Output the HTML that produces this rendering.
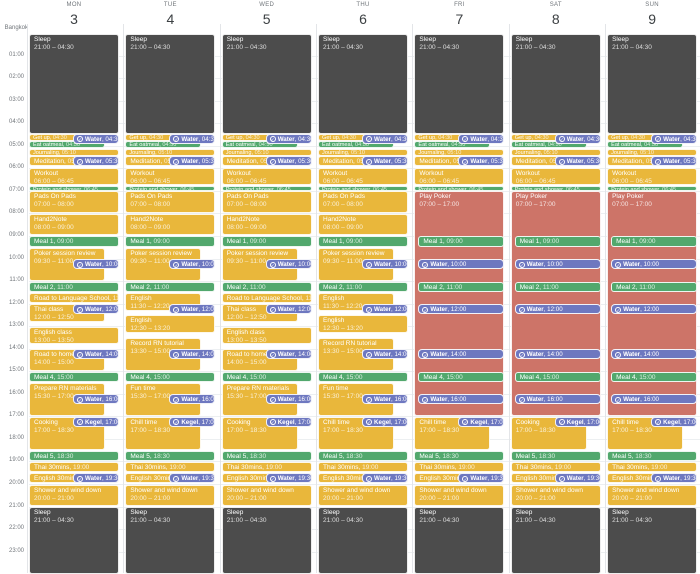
<!DOCTYPE html>
<html><head><meta charset="utf-8">
<style>
*{box-sizing:border-box;margin:0;padding:0}
body{width:700px;height:573px;overflow:hidden;background:#fff;font-family:"Liberation Sans",sans-serif;position:relative}
.hl{position:absolute;left:29px;right:0;height:1px;background:#eceff1}
.vl{position:absolute;top:24px;bottom:0;width:1px;background:#e3e5e8}
.hlab{position:absolute;left:0;width:24px;text-align:right;font-size:6px;color:#70757a}
.dn{position:absolute;top:2px;font-size:6px;color:#70757a;text-align:center;width:96px;letter-spacing:.3px}
.dd{position:absolute;top:11px;font-size:14px;color:#3c4043;text-align:center;width:96px}
.ev{position:absolute;border-radius:3px;color:#fff;font-size:6.5px;line-height:8px;padding:1px 4px;overflow:hidden;white-space:nowrap;border:0.5px solid rgba(255,255,255,.9)}
.ev .t{opacity:.8}
.y{background:#e9b73b}.g{background:#52a86d}.d{background:#4c4c4c}.r{background:#cd7468}.p{background:#6e78c0}
.sm{font-size:5.6px;line-height:6px;padding:0 3px}
.chip{font-size:6.2px;line-height:9px;padding:0 3px;border-radius:4px}
.chip b{font-weight:bold}
.ic{display:inline-block;width:6px;height:6px;border:0.8px solid #fff;border-radius:50%;font-size:4.5px;line-height:5px;text-align:center;vertical-align:-0.5px;margin-right:2px}
</style></head>
<body>
<div id="cal"></div>
<script>
const days=["MON","TUE","WED","THU","FRI","SAT","SUN"];
const dates=["3","4","5","6","7","8","9"];
const hours=["01:00","02:00","03:00","04:00","05:00","06:00","07:00","08:00","09:00","10:00","11:00","12:00","13:00","14:00","15:00","16:00","17:00","18:00","19:00","20:00","21:00","22:00","23:00"];
const dayType=["a","b","a","b","p","p","p"];
const eveningName=["Cooking","Chill time","Cooking","Chill time","Chill time","Cooking","Chill time"];
const HOUR=22.55,TOP=33,COL0=29,STRIDE=96.35;
const cal=document.getElementById('cal');
function Y(h){return TOP+h*HOUR;}
hours.forEach((l,i)=>{
  const ln=document.createElement('div');ln.className='hl';ln.style.top=Y(i+1)+'px';
  
  
  cal.appendChild(ln);
  const t=document.createElement('div');t.className='hlab';t.style.top=(Y(i+1)-4)+'px';t.textContent=l;
  
  
  cal.appendChild(t);
});
const tz=document.createElement('div');tz.className='hlab';tz.style.top='25px';tz.style.width='28px';tz.textContent='Bangkok';


cal.appendChild(tz);
days.forEach((d,i)=>{
  const x=COL0+i*STRIDE;
  const v=document.createElement('div');v.className='vl';v.style.left=(x-2)+'px';
  
  
  cal.appendChild(v);
  const n=document.createElement('div');n.className='dn';n.style.left=(x-3)+'px';n.textContent=d;
  
  
  cal.appendChild(n);
  const dd=document.createElement('div');dd.className='dd';dd.style.left=(x-3)+'px';dd.textContent=dates[i];
  
  
  cal.appendChild(dd);
});
function ev(day,s,e,c,title,time,mode,l,w,minh){
  const el=document.createElement('div');
  el.className='ev '+c+(mode==='sm'?' sm':'')+(mode==='chip'?' chip':'');
  const x=COL0+day*STRIDE+l;
  const top=Y(s)+0.5;
  const h=Math.max(Y(e)-Y(s)-1,minh||7);
  el.style.left=x+'px';el.style.width=w+'px';el.style.top=top+'px';el.style.height=h+'px';
  if(mode==='two'){el.innerHTML='<div>'+title+'</div><div class="t">'+time+'</div>';}
  else if(mode==='chip'){el.innerHTML='<span class="ic">✓</span><b>'+title+'</b>, '+time;}
  else{el.innerHTML=title+', <span class="t">'+time+'</span>';}
  
  
  cal.appendChild(el);
}
for(let d=0;d<7;d++){
  const t=dayType[d];
  ev(d,0,4.5,'d','Sleep','21:00 – 04:30','two',0,90);
  ev(d,4.45,4.78,'y','Get up','04:30','sm',0,78);
  ev(d,4.78,5.1,'g','Eat oatmeal','04:50','sm',0,76);
  ev(d,5.12,5.42,'y','Journaling','05:10','sm',0,90);
  ev(d,5.42,5.9,'y','Meditation','05:20','one',0,90,10);
  ev(d,5.95,6.75,'y','Workout','06:00 – 06:45','two',0,90);
  ev(d,6.75,7.0,'g','Protein and shower','06:45','sm',0,90,5);
  ev(d,4.45,4.9,'p','Water','04:30','chip',44,46,10);
  ev(d,5.45,5.9,'p','Water','05:30','chip',44,46,10);
  if(t==='p'){
    ev(d,7,17,'r','Play Poker','07:00 – 17:00','two',0,90);
    ev(d,9,9.5,'g','Meal 1','09:00','one',4,86,10);
    ev(d,10,10.45,'p','Water','10:00','chip',4,86,10);
    ev(d,11,11.5,'g','Meal 2','11:00','one',4,86,10);
    ev(d,12,12.45,'p','Water','12:00','chip',4,86,10);
    ev(d,14,14.45,'p','Water','14:00','chip',4,86,10);
    ev(d,15,15.5,'g','Meal 4','15:00','one',4,86,10);
    ev(d,16,16.45,'p','Water','16:00','chip',4,86,10);
  } else {
    ev(d,7,8,'y','Pads On Pads','07:00 – 08:00','two',0,90);
    ev(d,8,9,'y','Hand2Note','08:00 – 09:00','two',0,90);
    ev(d,9,9.5,'g','Meal 1','09:00','one',0,90,10);
    ev(d,9.5,11,'y','Poker session review','09:30 – 11:00','two',0,76);
    ev(d,10,10.45,'p','Water','10:00','chip',44,46,10);
    ev(d,11,11.5,'g','Meal 2','11:00','one',0,90,10);
    if(t==='a'){
      ev(d,11.5,12,'y','Road to Language School','11:30','one',0,90,10);
      ev(d,12,12.83,'y','Thai class','12:00 – 12:50','two',0,76);
      ev(d,13,13.83,'y','English class','13:00 – 13:50','two',0,90);
      ev(d,14,15,'y','Road to home a','14:00 – 15:00','two',0,76);
      ev(d,15.5,17,'y','Prepare RN materials','15:30 – 17:00','two',0,76);
    } else {
      ev(d,11.5,12.33,'y','English','11:30 – 12:20','two',0,76);
      ev(d,12.5,13.33,'y','English','12:30 – 13:20','two',0,90);
      ev(d,13.5,15,'y','Record RN tutorial','13:30 – 15:00','two',0,76);
      ev(d,15.5,17,'y','Fun time','15:30 – 17:00','two',0,76);
    }
    ev(d,12,12.45,'p','Water','12:00','chip',44,46,10);
    ev(d,14,14.45,'p','Water','14:00','chip',44,46,10);
    ev(d,15,15.5,'g','Meal 4','15:00','one',0,90,10);
    ev(d,16,16.45,'p','Water','16:00','chip',44,46,10);
  }
  ev(d,17,18.5,'y',eveningName[d],'17:00 – 18:30','two',0,76);
  ev(d,17,17.45,'p','Kegel','17:00','chip',44,46,10);
  ev(d,18.5,19,'g','Meal 5','18:30','one',0,90,10);
  ev(d,19,19.5,'y','Thai 30mins','19:00','one',0,90,10);
  ev(d,19.5,20,'y','English 30mins','19:30','one',0,90,10);
  ev(d,19.5,19.98,'p','Water','19:30','chip',44,46,10);
  ev(d,20,21,'y','Shower and wind down','20:00 – 21:00','two',0,90);
  ev(d,21,24,'d','Sleep','21:00 – 04:30','two',0,90);
}
</script>
</body></html>
